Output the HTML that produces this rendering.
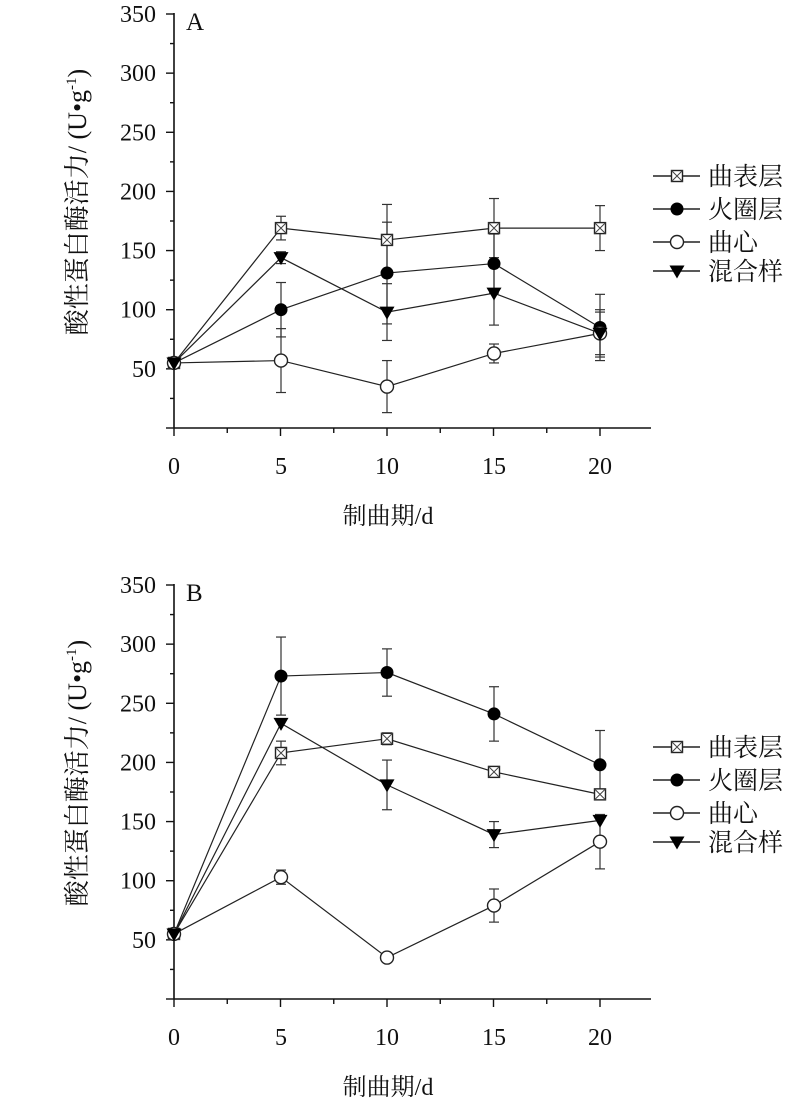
<!DOCTYPE html>
<html><head><meta charset="utf-8"><style>
body{margin:0;background:#fff}
svg{display:block}
text{font-family:"Liberation Serif","Noto Serif CJK SC",serif;fill:#111}
</style></head><body>
<svg width="799" height="1104" viewBox="0 0 799 1104" xmlns="http://www.w3.org/2000/svg">
<defs>
<g id="sq"><rect x="-5.5" y="-5.5" width="11" height="11" fill="#fff" stroke="#222" stroke-width="1.4"/><path d="M-5.5,-5.5L5.5,5.5M5.5,-5.5L-5.5,5.5" stroke="#444" stroke-width="1"/></g>
<g id="ci"><circle r="6.5" fill="#000"/></g>
<g id="oc"><circle r="6.5" fill="#fff" stroke="#222" stroke-width="1.4"/></g>
<g id="tr"><path d="M-7.5,-5.5L7.5,-5.5L0,7.5Z" fill="#000"/></g>
</defs>
<g id="content"></g>
</svg>
<script>
const svg=document.getElementById('content');
const NS='http://www.w3.org/2000/svg';
function el(t,a,txt){const e=document.createElementNS(NS,t);for(const k in a)e.setAttribute(k,a[k]);if(txt!=null)e.textContent=txt;svg.appendChild(e);return e;}
const xs=[174,281,387,494,600];
function panel(top,label,data){
  const y0=top+414, sc=414/350;
  const Y=v=>y0-v*sc;
  el('line',{x1:174,y1:top-1,x2:174,y2:y0,stroke:'#111','stroke-width':1.6});
  el('line',{x1:174,y1:y0,x2:651,y2:y0,stroke:'#111','stroke-width':1.6});
  for(let v=0;v<=350;v+=25){const major=v%50==0;el('line',{x1:major?166:170,y1:Y(v),x2:174,y2:Y(v),stroke:'#111','stroke-width':1.4});
    if(major&&v>0)el('text',{x:156,y:Y(v)+8,'font-size':24,'text-anchor':'end'},v);}
  for(let i=0;i<=9;i++){const x=174+i*53.25;if(x>651)break;el('line',{x1:x,y1:y0,x2:x,y2:y0+(i%2?5:8),stroke:'#111','stroke-width':1.4});}
  [0,5,10,15,20].forEach((v,i)=>el('text',{x:xs[i],y:y0+46,'font-size':24,'text-anchor':'middle'},v));
  el('text',{x:388,y:y0+96,'font-size':24,'text-anchor':'middle'},'制曲期/d');
  el('text',{x:186,y:top+16,'font-size':25},label);
  const t=el('text',{transform:`translate(86,${top+188}) rotate(-90)`,'font-size':26,'text-anchor':'middle'},'酸性蛋白酶活力/ (U•g');
  const ts=document.createElementNS(NS,'tspan');ts.setAttribute('font-size',15);ts.setAttribute('dy',-10);ts.textContent='-1';t.appendChild(ts);
  const ts2=document.createElementNS(NS,'tspan');ts2.setAttribute('dy',10);ts2.textContent=')';t.appendChild(ts2);
  const ids=['sq','ci','oc','tr'];
  data.forEach((s,k)=>{
    let p=s.v.map((v,i)=>xs[i]+','+Y(v)).join(' ');
    el('polyline',{points:p,fill:'none',stroke:'#222','stroke-width':1.2});
    s.v.forEach((v,i)=>{const e=s.e[i];if(e>0){const x=xs[i];
      el('line',{x1:x,y1:Y(v-e),x2:x,y2:Y(v+e),stroke:'#333','stroke-width':1.2});
      el('line',{x1:x-5,y1:Y(v-e),x2:x+5,y2:Y(v-e),stroke:'#333','stroke-width':1.2});
      el('line',{x1:x-5,y1:Y(v+e),x2:x+5,y2:Y(v+e),stroke:'#333','stroke-width':1.2});}});
  });
  data.forEach((s,k)=>s.v.forEach((v,i)=>el('use',{href:'#'+ids[k],x:xs[i],y:Y(v)})));
  const names=['曲表层','火圈层','曲心','混合样'];
  const ly=[top+162,top+195,top+228,top+257];
  names.forEach((n,k)=>{el('line',{x1:653,y1:ly[k],x2:700,y2:ly[k],stroke:'#222','stroke-width':1.4});
    el('use',{href:'#'+ids[k],x:677,y:ly[k]});
    el('text',{x:708,y:ly[k]+9,'font-size':25},n);});
}
panel(14,'A',[
 {v:[55,169,159,169,169],e:[0,10,30,25,19]},
 {v:[55,100,131,139,85],e:[0,23,43,25,28]},
 {v:[55,57,35,63,80],e:[0,27,22,8,20]},
 {v:[55,144,98,114,80],e:[0,5,24,27,18]}]);
panel(585,'B',[
 {v:[55,208,220,192,173],e:[0,10,5,4,4]},
 {v:[55,273,276,241,198],e:[0,33,20,23,29]},
 {v:[55,103,35,79,133],e:[0,6,3,14,23]},
 {v:[55,233,181,139,151],e:[0,0,21,11,0]}]);
</script>
</body></html>
